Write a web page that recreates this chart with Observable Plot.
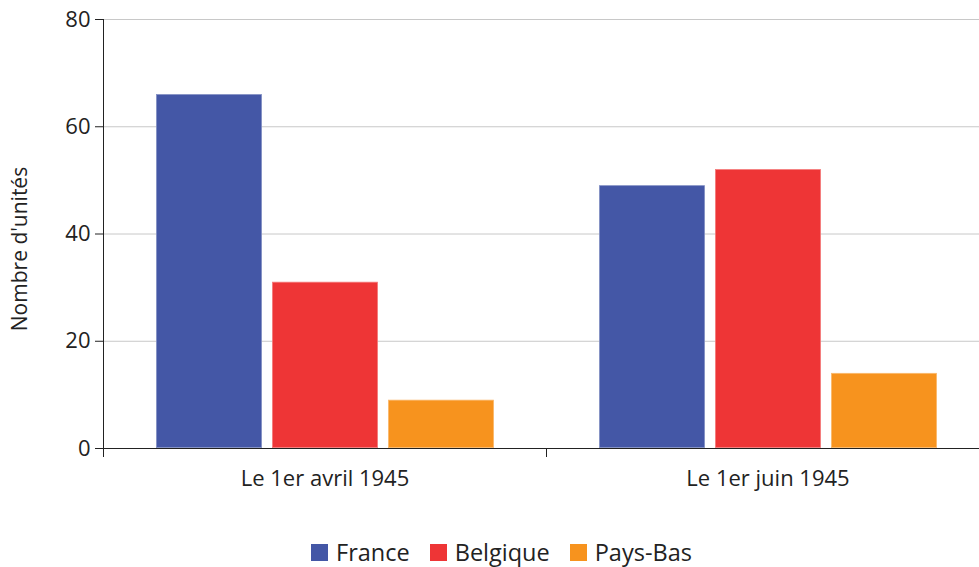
<!DOCTYPE html>
<html>
<head>
<meta charset="utf-8">
<script src="https://cdn.jsdelivr.net/npm/d3@7"></script>
<script src="https://cdn.jsdelivr.net/npm/@observablehq/plot@0.6"></script>
<style>
  html, body { margin: 0; padding: 0; background: #fff; overflow: hidden; }
  body { width: 979px; height: 567px; font-family: "Open Sans", sans-serif; }
  #chart svg { display: block; }
  #legend { display: flex; justify-content: center; align-items: center; gap: 20px; padding-left: 24px; font-size: 23.5px; line-height: 24px; height: 24px; color: #222; margin-top: 35px; }
  #legend .item { display: flex; align-items: center; gap: 8px; }
  #legend .sw { width: 17px; height: 17px; display: inline-block; }
</style>
</head>
<body>
<div id="chart"></div>
<div id="legend"></div>
<script>
const dates = ["Le 1er avril 1945", "Le 1er juin 1945"];
const countries = ["France", "Belgique", "Pays-Bas"];
const colors = ["#4457a6", "#ee3536", "#f7931e"];
const france = [66, 49];
const belgique = [31, 52];
const paysBas = [9, 14];
const yTicks = [0, 20, 40, 60, 80];
const yLabel = "Nombre d'unités";

const series = [france, belgique, paysBas];
const data = dates.flatMap((d, i) => countries.map((c, j) => ({date: d, country: c, value: series[j][i]})));
const edge = colors.map(c => d3.interpolateRgb(c, "#fff")(0.35));

const W = 979, H = 505, ML = 103, MT = 19, MB = 57;
const fxRange = [ML, 989];
const band = (fxRange[1] - fxRange[0]) / dates.length;

const chart = Plot.plot({
  width: W, height: H,
  marginTop: MT, marginBottom: MB, marginLeft: ML, marginRight: 0,
  style: {fontFamily: "'Open Sans', sans-serif", overflow: "visible", color: "#222", background: "#fff"},
  fx: {domain: dates, range: fxRange, padding: 0, label: null},
  x: {domain: countries, paddingInner: 0.088, paddingOuter: 0.45, axis: null},
  y: {domain: [0, 80], label: null},
  color: {domain: countries, range: colors},
  marks: [
    Plot.gridY({ticks: yTicks.filter(v => v > 0), stroke: "#c8c8c8", strokeOpacity: 1, strokeWidth: 1}),
    Plot.barY(data, {fx: "date", x: "country", y: "value", fill: "country",
      stroke: d => edge[countries.indexOf(d.country)], strokeWidth: 0.8, inset: 0.4}),
    Plot.ruleY([0], {stroke: "#222", strokeWidth: 1}),
    Plot.frame({anchor: "left", facetAnchor: "left", stroke: "#222", strokeWidth: 1}),
    Plot.axisY({ticks: yTicks, tickSize: 8, tickPadding: 5, fontSize: 22, label: null, stroke: "#222"}),
    Plot.axisFx({anchor: "bottom", tickSize: 0, tickPadding: 22, fontSize: 22, label: null}),
    Plot.axisFx({anchor: "bottom", text: null, tickSize: 9, dx: -band / 2, label: null, stroke: "#222"}),
    Plot.text([yLabel], {frameAnchor: "left", textAnchor: "middle", rotate: -90, dx: -83, dy: 15, facetAnchor: "left", fontSize: 21, fill: "#222"})
  ]
});
document.getElementById("chart").appendChild(chart);

const legend = document.getElementById("legend");
countries.forEach((c, i) => {
  const item = document.createElement("span");
  item.className = "item";
  const sw = document.createElement("span");
  sw.className = "sw";
  sw.style.background = colors[i];
  const t = document.createElement("span");
  t.textContent = c;
  item.appendChild(sw);
  item.appendChild(t);
  legend.appendChild(item);
});
</script>
</body>
</html>
